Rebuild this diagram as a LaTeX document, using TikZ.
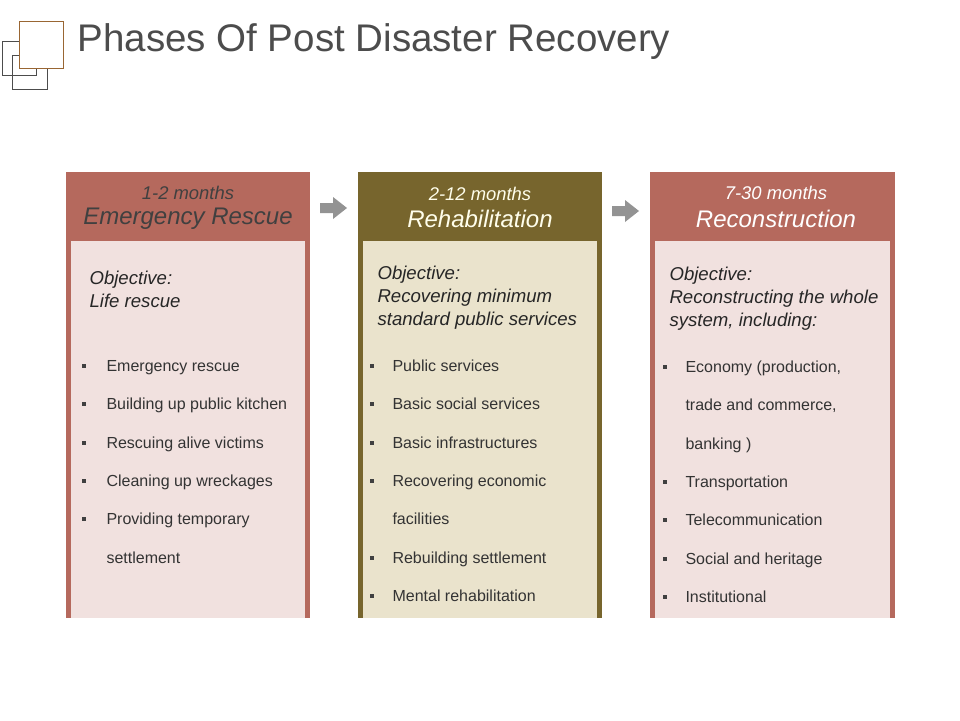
\documentclass[tikz,border=0pt]{standalone}
\usepackage{fontspec}
\setmainfont{Liberation Sans}
\begin{document}
\begin{tikzpicture}[x=1pt,y=-1pt,
  hd/.style={font=\itshape\fontsize{18.4}{20}\selectfont,anchor=center},
  ht/.style={font=\itshape\fontsize{24}{26}\selectfont,anchor=center},
  obj/.style={font=\itshape\fontsize{18.6}{23}\selectfont,anchor=north west,align=left,text=black!85},
  bl/.style={font=\fontsize{16}{18}\selectfont,anchor=base west,text=black!80},
  bm/.style={fill=black!75,minimum size=3.5pt,inner sep=0pt,anchor=center},
  arr/.style={fill=gray!85!white}]
\useasboundingbox (0,0) rectangle (960,720);
\fill[white] (0,0) rectangle (960,720);
% icon
\draw[draw=black!70,line width=0.8] (2,41) rectangle (36,75);
\draw[draw=black!70,line width=0.8] (12,55) rectangle (47,89);
\draw[draw=brown!80!black,fill=white,line width=0.8] (19,21) rectangle (63,68);
\node[anchor=west,font=\fontsize{38.5}{40}\selectfont,text=black!70] (title) at (74,42) {Phases Of Post Disaster Recovery};
% columns
\definecolor{rb}{HTML}{B5695D}
\definecolor{pk}{HTML}{F1E1DF}
\definecolor{ol}{HTML}{77652D}
\definecolor{bg}{HTML}{EAE3CC}
\fill[rb] (66,172) rectangle (310,618); \fill[pk] (71,241) rectangle (305,618);
\fill[ol] (358,172) rectangle (602,618); \fill[bg] (363,241) rectangle (597,618);
\fill[rb] (650,172) rectangle (895,618); \fill[pk] (655,241) rectangle (890,618);
\node[hd,text=black!75] (h1a) at (188,193) {1-2 months};
\node[ht,text=black!75] (h1b) at (188,219) {Emergency Rescue};
\node[hd,text=white!92!yellow] (h2a) at (480,194) {2-12 months};
\node[ht,text=white!92!yellow] (h2b) at (480,219) {Rehabilitation};
\node[hd,text=white] (h3a) at (776,193) {7-30 months};
\node[ht,text=white] (h3b) at (776,219) {Reconstruction};
% arrows
\fill[arr] (320,203) -- (333,203) -- (333,197) -- (347,208) -- (333,219) -- (333,213) -- (320,213) -- cycle;
\fill[arr] (612,206) -- (625,206) -- (625,200) -- (639,211) -- (625,222) -- (625,216) -- (612,216) -- cycle;
\node[obj] (o1) at (86,267) {Objective:\\Life rescue};
\node[obj] (o2) at (374,262) {Objective:\\Recovering minimum\\standard public services};
\node[obj] (o3) at (666,263) {Objective:\\Reconstructing the whole\\system, including:};
\foreach \y/\t/\m in {366/{Emergency rescue}/1,404/{Building up public kitchen}/1,443/{Rescuing alive victims}/1,481/{Cleaning up wreckages}/1,519/{Providing temporary}/1,558/{settlement}/0}{
  \node[bl] at (103,\y+5.5) {\t};
  \ifnum\m=1 \node[bm] at (84,\y) {};\fi}
\foreach \y/\t/\m in {366/{Public services}/1,404/{Basic social services}/1,443/{Basic infrastructures}/1,481/{Recovering economic}/1,519/{facilities}/0,558/{Rebuilding settlement}/1,596/{Mental rehabilitation}/1}{
  \node[bl] at (389,\y+5.5) {\t};
  \ifnum\m=1 \node[bm] at (372,\y) {};\fi}
\foreach \y/\t/\m in {367/{Economy (production,}/1,405/{trade and commerce,}/0,444/{banking )}/0,482/{Transportation}/1,520/{Telecommunication}/1,559/{Social and heritage}/1,597/{Institutional}/1}{
  \node[bl] at (682,\y+5.5) {\t};
  \ifnum\m=1 \node[bm] at (665,\y) {};\fi}
\end{tikzpicture}
\end{document}
